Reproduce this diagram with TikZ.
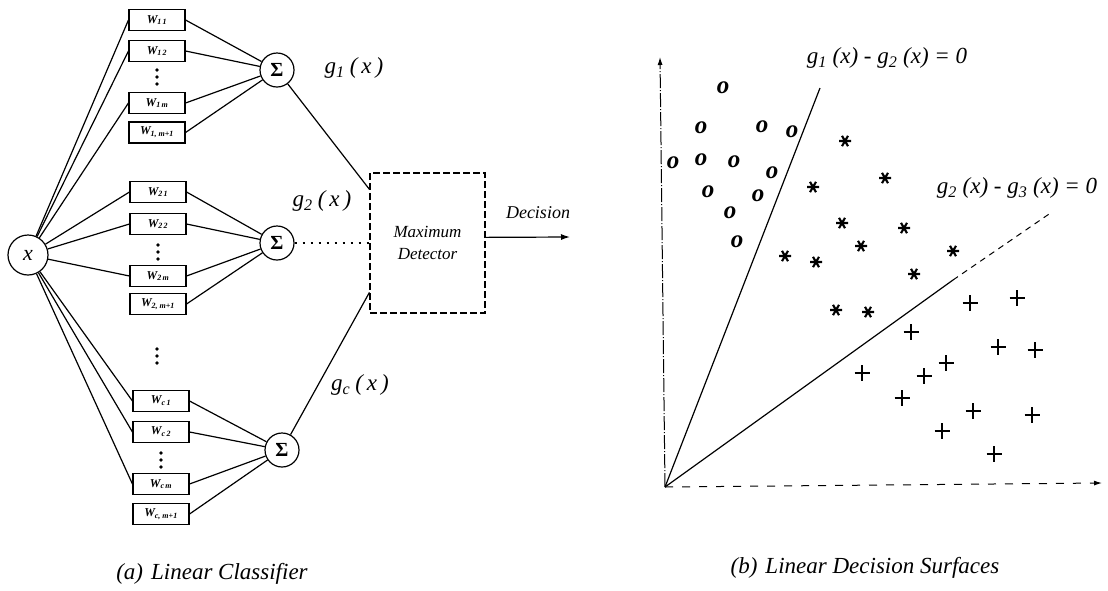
\documentclass[tikz,border=0pt]{standalone}
\usepackage{fontspec}
\setmainfont{Liberation Serif}
\usetikzlibrary{arrows.meta,calc}
\tikzset{
  ln/.style={line width=1.2pt},
  wbox/.style={draw,line width=1.1pt,minimum width=56pt,minimum height=21pt,inner sep=0pt,
    font=\fontsize{12}{12}\selectfont\bfseries\itshape},
  sumnode/.style={draw,circle,line width=1.2pt,minimum size=34pt,inner sep=0pt,
    font=\fontsize{20}{20}\selectfont\bfseries},
  glabel/.style={font=\fontsize{23}{23}\selectfont\itshape,inner sep=0pt},
  caption/.style={font=\fontsize{23}{23}\selectfont\itshape,inner sep=0pt},
  vdot/.style={circle,fill,inner sep=0pt,minimum size=3.8pt},
  omark/.style={font=\fontsize{25}{25}\selectfont\bfseries\itshape,inner sep=0pt},
  pmark/.pic={\draw[line width=1.4pt] (-7.5,0)--(7.5,0) (0,-8)--(0,8);},
  astk/.pic={\draw[line width=2.1pt] (-6,0)--(6,0) (-3,5.2)--(3,-5.2) (3,5.2)--(-3,-5.2);},
}
\newcommand{\vdotsat}[2]{\node[vdot] at (#1,#2-7) {};\node[vdot] at (#1,#2) {};\node[vdot] at (#1,#2+7) {};}
\begin{document}
\begin{tikzpicture}[x=1pt,y=-1pt]
\useasboundingbox (0,0) rectangle (1108,590);
% ---------------- left: linear classifier
\node[draw,circle,line width=1.2pt,minimum size=40pt,inner sep=0pt,font=\fontsize{22}{22}\selectfont\itshape] (xin) at (28,255) {x};
% group 1
\node[wbox] (w11) at (157,20) {W\textsubscript{1\,1}};
\node[wbox] (w12) at (157,51) {W\textsubscript{1\,2}};
\vdotsat{157}{77}
\node[wbox] (w1m) at (157,103) {W\textsubscript{1\,m}};
\node[wbox] (w1b) at (157,132.5) {W\textsubscript{1, m+1}};
\node[sumnode] (s1) at (277,70) {Σ};
% group 2
\node[wbox] (w21) at (158,192) {W\textsubscript{2\,1}};
\node[wbox] (w22) at (158,224) {W\textsubscript{2\,2}};
\vdotsat{158}{252}
\node[wbox] (w2m) at (158,276) {W\textsubscript{2\,m}};
\node[wbox] (w2b) at (158,304) {W\textsubscript{2, m+1}};
\node[sumnode] (s2) at (277,243) {Σ};
\vdotsat{157}{356}
% group c
\node[wbox] (wc1) at (161,401) {W\textsubscript{c\,1}};
\node[wbox] (wc2) at (161,432) {W\textsubscript{c\,2}};
\vdotsat{161}{460}
\node[wbox] (wcm) at (161,484) {W\textsubscript{c\,m}};
\node[wbox] (wcb) at (161,514) {W\textsubscript{c, m+1}};
\node[sumnode] (sc) at (282,450) {Σ};
% connections
\foreach \b in {w11,w12,w1m,w21,w22,w2m,wc1,wc2,wcm} \draw[ln] (xin) -- (\b.west);
\foreach \b in {w11,w12,w1m,w1b} \draw[ln] (\b.east) -- (s1);
\foreach \b in {w21,w22,w2m,w2b} \draw[ln] (\b.east) -- (s2);
\foreach \b in {wc1,wc2,wcm,wcb} \draw[ln] (\b.east) -- (sc);
% maximum detector
\node[draw,line width=1.1pt,dash pattern=on 7pt off 3pt,minimum width=115pt,minimum height=140pt,inner sep=0pt,
  align=center,font=\fontsize{17}{22}\selectfont\itshape] (md) at (427.5,243) {Maximum\\Detector};
\coordinate (mdin1) at ($(md.north west)!0.12!(md.south west)$);
\coordinate (mdinc) at ($(md.north west)!0.85!(md.south west)$);
\coordinate (mdout) at ($(md.north east)!0.46!(md.south east)$);
\coordinate (decend) at (570,237);
\draw[ln] (s1) -- (mdin1);
\draw[line width=1.1pt,dash pattern=on 2pt off 6pt] (s2) -- (md.west);
\draw[ln] (sc) -- (mdinc);
\draw[ln,-{Latex[length=9pt,width=6pt]}] (mdout) -- (decend);
\node[font=\fontsize{18}{18}\selectfont\itshape] (dec) at (538,213) {Decision};
\node[glabel] (g1) at (354,68) {g\textsubscript{1}\hspace{5pt}(\hspace{4pt}x\hspace{4pt})};
\node[glabel] (g2) at (322,201) {g\textsubscript{2}\hspace{5pt}(\hspace{4pt}x\hspace{4pt})};
\node[glabel] (gc) at (360,385) {g\textsubscript{c}\hspace{5pt}(\hspace{4pt}x\hspace{4pt})};
\node[caption] (capa) at (212,574) {(a)\hspace{8pt}Linear Classifier};
% ---------------- right: decision surfaces
\coordinate (O) at (665,487);
\coordinate (ytop) at (660,57);
\coordinate (xend) at (1102,483);
\coordinate (l1end) at (820,88);
\coordinate (l2mid) at (953,280);
\coordinate (l2end) at (1052,212);
\draw[line width=1pt,dash pattern=on 14pt off 2pt on 1pt off 2pt,-{Latex[length=8pt,width=5pt]}] (O) -- (ytop);
\draw[line width=1pt,dash pattern=on 8pt off 9pt,-{Latex[length=8pt,width=5pt]}] (O) -- (xend);
\draw[ln] (O) -- (l1end);
\draw[ln] (O) -- (l2mid);
\draw[line width=1pt,dash pattern=on 6pt off 5pt] (l2mid) -- (l2end);
\node[glabel] (eq1) at (887,58) {g\textsubscript{1} (x) - g\textsubscript{2} (x) = 0};
\node[glabel] (eq2) at (1017,188) {g\textsubscript{2} (x) - g\textsubscript{3} (x) = 0};
% class o
\foreach \px/\py [count=\i] in {723/88,701/128,762/127,792/132,673/163,701/160,734/162,772/173,708/192,758/196,730/213,737/242}
  \node[omark] (o\i) at (\px,\py) {o};
% class *
\foreach \px/\py in {845/141,885/178,813/187,842/223,904/228,861/246,953/251,785/256,816/262,914/274,836/310,868/312}
  \pic at (\px,\py) {astk};
% class +
\foreach \px/\py in {970/303,1017/298,911/332,998/347,1035/350,946/363,862/373,924/376,902/398,973/411,1032/415,942/431,994/454}
  \pic at (\px,\py) {pmark};
\node[caption] (capb) at (865,568) {(b)\hspace{8pt}Linear Decision Surfaces};
\end{tikzpicture}
\end{document}
